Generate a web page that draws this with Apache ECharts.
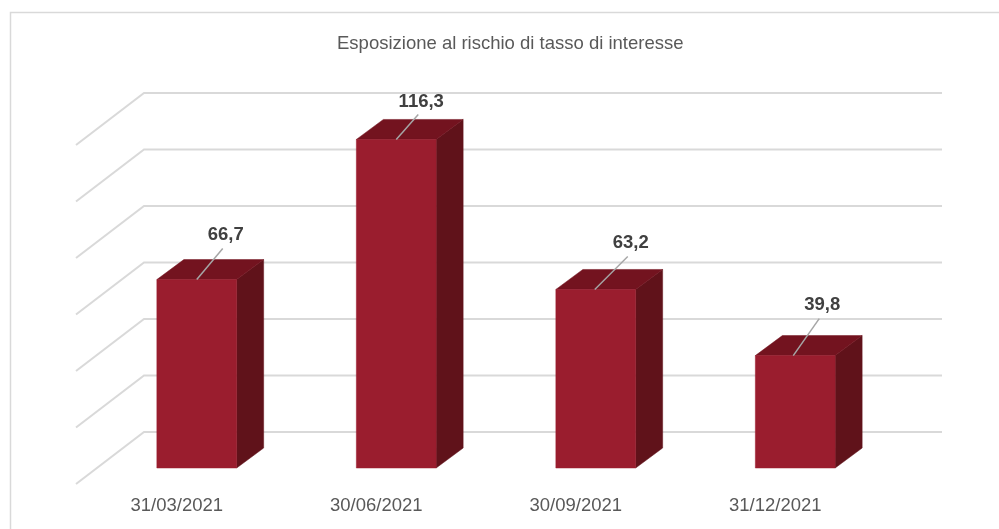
<!DOCTYPE html>
<html>
<head>
<meta charset="utf-8">
<title>Esposizione al rischio di tasso di interesse</title>
<style>
    html, body { margin: 0; padding: 0; background: #fff; }
    #content-first { width: 999px; height: 529px; }
</style>
<script src="https://cdn.jsdelivr.net/npm/echarts@6/dist/echarts.min.js"></script>
</head>
<body>
<div id="content-first"></div>
<script>
// dati del grafico
var categories = ['31/03/2021', '30/06/2021', '30/09/2021', '31/12/2021'];
var values = [66.7, 116.3, 63.2, 39.8];
var yTicks = [0, 20, 40, 60, 80, 100, 120];

// posizione delle etichette rispetto al centro della faccia frontale
// [inizio linea x, fine linea x, fine linea y, testo x, testo y]
var labelOffsets = [
    [0, 26, -31, 29, -45],
    [0, 22, -25, 25, -38],
    [-1, 32, -33, 35, -47],
    [-2, 24, -37, 27, -51]
];

// finta prospettiva
var wallDx = 68, wallDy = -52;   // profondita' delle pareti
var barDx = 21, barDy = -16;     // distanza della barra dal bordo anteriore
var depthDx = 27, depthDy = -20; // profondita' della barra

var fontName = '"Liberation Sans", Arial, sans-serif';

var myChart = echarts.init(document.getElementById('content-first'));

function renderWall(params, api) {
    var p = api.coord([0, api.value(0)]);
    var cs = params.coordSys;
    var y = p[1];
    return {
        type: 'polyline',
        shape: {
            points: [
                [cs.x, y],
                [cs.x + wallDx, y + wallDy],
                [cs.x + cs.width + wallDx, y + wallDy]
            ]
        },
        style: { fill: null, stroke: '#d9d9d9', lineWidth: 2 },
        silent: true
    };
}

function renderBar(params, api) {
    var i = api.value(0);
    var v = api.value(1);
    var top = api.coord([i, v]);
    var base = api.coord([i, 0]);
    var w = api.size([1, 0])[0] * 0.4;
    var xc = top[0] + barDx;
    var x0 = xc - w / 2, x1 = xc + w / 2;
    var yt = top[1] + barDy, yb = base[1] + barDy;
    var off = labelOffsets[i];
    var text = v.toFixed(1).replace('.', ',');
    return {
        type: 'group',
        children: [
            {
                type: 'polygon',
                shape: { points: [[x1, yt], [x1 + depthDx, yt + depthDy], [x1 + depthDx, yb + depthDy], [x1, yb]] },
                style: { fill: '#60121a', stroke: '#60121a', lineWidth: 0.5 }
            },
            {
                type: 'polygon',
                shape: { points: [[x0, yt], [x0 + depthDx, yt + depthDy], [x1 + depthDx, yt + depthDy], [x1, yt]] },
                style: { fill: '#73131f', stroke: '#73131f', lineWidth: 0.5 }
            },
            {
                type: 'rect',
                shape: { x: x0, y: yt, width: w, height: yb - yt },
                style: { fill: '#9a1d2e', stroke: '#9a1d2e', lineWidth: 0.5 }
            },
            {
                type: 'line',
                shape: { x1: xc + off[0], y1: yt, x2: xc + off[1], y2: yt + off[2] },
                style: { stroke: '#a6a6a6', lineWidth: 1.5 }
            },
            {
                type: 'text',
                style: {
                    x: xc + off[3],
                    y: yt + off[4],
                    text: text,
                    align: 'center',
                    verticalAlign: 'middle',
                    fill: '#404040',
                    font: 'bold 18.5px ' + fontName
                }
            }
        ]
    };
}

var option = {
    animation: false,
    backgroundColor: '#fff',
    title: {
        text: 'Esposizione al rischio di tasso di interesse',
        left: 337,
        top: 34,
        textStyle: {
            fontFamily: fontName,
            fontWeight: 'normal',
            fontSize: 18.5,
            color: '#595959'
        },
        padding: 0
    },
    // cornice: solo lato sinistro e superiore sono visibili
    graphic: [
        {
            type: 'polyline',
            silent: true,
            shape: { points: [[10.5, 529], [10.5, 12.5], [999, 12.5]] },
            style: { fill: null, stroke: '#d9d9d9', lineWidth: 1.5 }
        }
    ],
    grid: { left: 76, right: 125, top: 145, bottom: 45 },
    xAxis: {
        type: 'category',
        data: categories,
        axisLine: { show: false },
        axisTick: { show: false },
        axisLabel: {
            margin: 12,
            padding: [0, 0, 0, 2],
            fontFamily: fontName,
            fontSize: 18.5,
            color: '#595959'
        }
    },
    yAxis: {
        type: 'value',
        min: 0,
        max: 120,
        interval: 20,
        axisLine: { show: false },
        axisTick: { show: false },
        axisLabel: { show: false },
        splitLine: { show: false }
    },
    series: [
        {
            name: 'griglia',
            type: 'custom',
            renderItem: renderWall,
            data: yTicks.map(function (t) { return [t]; }),
            encode: { y: 0 },
            clip: false,
            z: 1
        },
        {
            name: 'Esposizione',
            type: 'custom',
            renderItem: renderBar,
            data: values.map(function (v, i) { return [i, v]; }),
            encode: { x: 0, y: 1 },
            clip: false,
            z: 2
        }
    ]
};

myChart.setOption(option);
</script>
</body>
</html>
